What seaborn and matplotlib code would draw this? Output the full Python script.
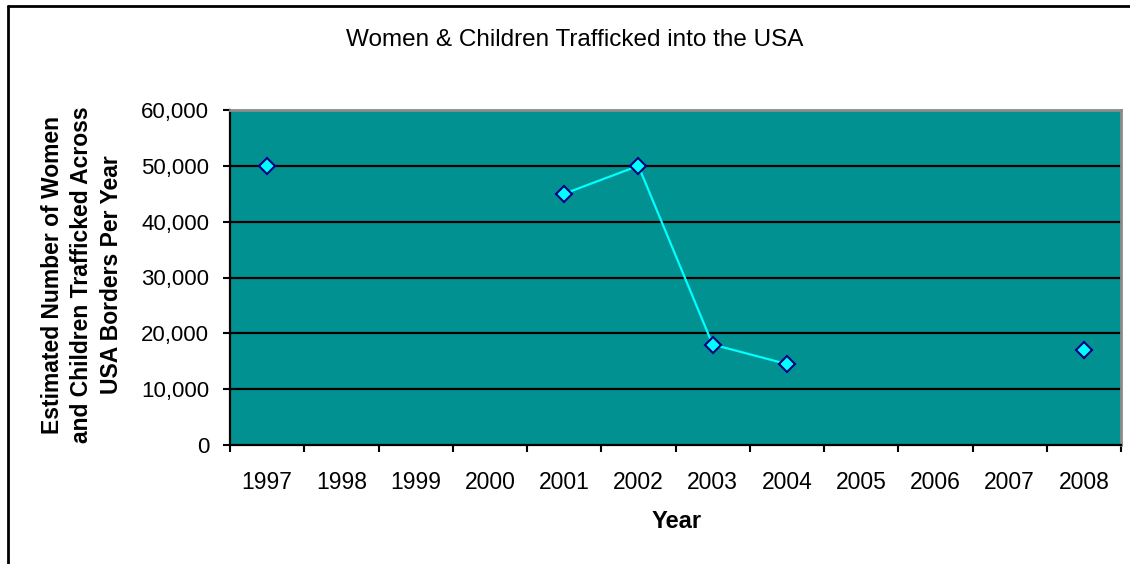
import numpy as np
import pandas as pd
import matplotlib
matplotlib.use("Agg")
import matplotlib.pyplot as plt
from matplotlib.lines import Line2D
from matplotlib.ticker import FuncFormatter, FixedLocator
from matplotlib import font_manager
import seaborn as sns

# Estimated women & children trafficked into the USA each year
years = ["1997", "1998", "1999", "2000", "2001", "2002",
         "2003", "2004", "2005", "2006", "2007", "2008"]
estimates = [50000, None, None, None, 45000, 50000,
             18000, 14500, None, None, None, 17000]
y_ticks = [0, 10000, 20000, 30000, 40000, 50000, 60000]

df = pd.DataFrame({"year": years, "value": estimates})
df["pos"] = np.arange(len(years))
# contiguous runs of reported years form separate line segments
df["seg"] = df["value"].isna().cumsum()
df = df.dropna(subset=["value"])

sns.set_theme(style="white")
plt.rcParams["font.family"] = ["Liberation Sans", "DejaVu Sans"]
for key in ("text.color", "axes.labelcolor", "xtick.color", "ytick.color"):
    plt.rcParams[key] = "black"

# condensed bold face for the value-axis title, if available
installed = {f.name for f in font_manager.fontManager.ttflist}
if "Liberation Sans Narrow" in installed:
    ylab_family, ylab_size = ["Liberation Sans Narrow", "DejaVu Sans"], 19.5
else:
    ylab_family, ylab_size = ["Liberation Sans", "DejaVu Sans"], 16.5

W, H = 1130, 564
fig = plt.figure(figsize=(W / 100, H / 100), dpi=100)
ax = fig.add_axes([230 / W, 1 - 445 / H, (1121 - 230) / W, (445 - 110) / H])
ax.set_facecolor("#009190")

sns.lineplot(data=df, x="pos", y="value", units="seg", estimator=None,
             color="#00FFFF", lw=1.6, marker="D", markersize=8,
             markerfacecolor="#00FFFF", markeredgecolor="#000080",
             markeredgewidth=1.5, ax=ax, zorder=5, clip_on=False)

ax.set_xlim(-0.5, len(years) - 0.5)
ax.set_ylim(0, 60000)

ax.yaxis.set_major_locator(FixedLocator(y_ticks))
ax.yaxis.set_major_formatter(FuncFormatter(lambda v, p: f"{int(v):,}"))
for v in y_ticks[1:-1]:
    ax.axhline(v, color="black", lw=1.6, zorder=1)

ax.set_xticks(np.arange(len(years)))
ax.set_xticklabels(years)
ax.set_xticks(np.arange(len(years) + 1) - 0.5, minor=True)
ax.tick_params(axis="x", which="major", length=0, pad=18.5, labelsize=16.5)
ax.tick_params(axis="x", which="minor", length=5, width=1.5, color="black",
               bottom=True)
ax.tick_params(axis="y", which="major", length=5, width=1.5, color="black",
               left=True, pad=10, labelsize=16)

for s in ("left", "bottom"):
    ax.spines[s].set_color("black")
    ax.spines[s].set_linewidth(1.6)
for s in ("top", "right"):
    ax.spines[s].set_color("#8c8c8c")
    ax.spines[s].set_linewidth(2)

ax.set_xlabel("")
ax.set_ylabel("")
fig.text(677 / W, 1 - 522 / H, "Year", ha="center", va="center",
         fontsize=17, fontweight="bold")
fig.text(82 / W, 1 - 275 / H,
         "Estimated Number of Women\nand Children Trafficked Across\nUSA Borders Per Year",
         ha="center", va="center", rotation=90, multialignment="center",
         family=ylab_family, fontsize=ylab_size, fontweight="bold",
         linespacing=1.38)
fig.text(575 / W, 1 - 40 / H, "Women & Children Trafficked into the USA",
         ha="center", va="center", fontsize=17.5)

# chart-area frame
fig.add_artist(Line2D([8 / W, 8 / W], [-0.1, 1 - 6 / H], color="black", lw=2,
                      transform=fig.transFigure))
fig.add_artist(Line2D([8 / W, 1.1], [1 - 6 / H, 1 - 6 / H], color="black", lw=2,
                      transform=fig.transFigure))

fig.savefig("out.png", dpi=100, facecolor="white")
